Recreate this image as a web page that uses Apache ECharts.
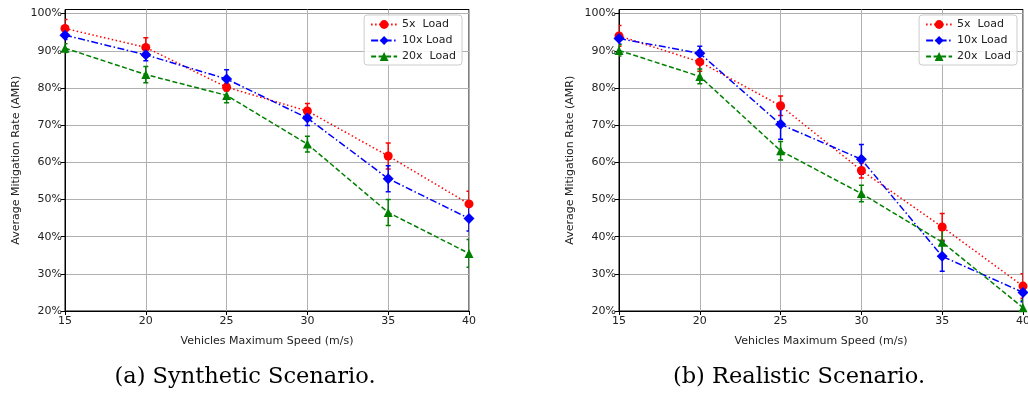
<!DOCTYPE html>
<html>
<head>
<meta charset="utf-8">
<script src="https://cdn.jsdelivr.net/npm/echarts@6/dist/echarts.min.js"></script>
<style>
html,body{margin:0;padding:0;background:#fff;}
#c{width:1028px;height:394px;}
</style>
</head>
<body>
<div id="c"></div>
<script>
// ---- data ----
const speeds = [15, 20, 25, 30, 35, 40];
const seriesNames = ['5x  Load', '10x Load', '20x  Load'];

const synth5 = [96.0, 90.9, 80.2, 73.8, 61.7, 48.8];
const synth5Err = [2.4, 2.6, 1.0, 2.0, 3.5, 3.4];
const synth10 = [94.2, 88.9, 82.4, 71.9, 55.6, 44.9];
const synth10Err = [1.2, 1.6, 2.5, 2.0, 3.5, 3.4];
const synth20 = [90.7, 83.6, 78.0, 64.9, 46.5, 35.5];
const synth20Err = [1.2, 2.2, 2.0, 2.1, 3.5, 3.7];

const real5 = [94.0, 87.0, 75.2, 57.8, 42.6, 26.7];
const real5Err = [2.8, 2.5, 2.6, 2.0, 3.6, 3.3];
const real10 = [93.3, 89.3, 70.2, 60.8, 34.7, 25.0];
const real10Err = [1.5, 1.9, 4.0, 4.0, 4.0, 2.5];
const real20 = [90.1, 83.1, 63.1, 51.6, 38.5, 20.9];
const real20Err = [1.5, 2.0, 2.5, 2.2, 3.4, 2.0];

const yTicks = [20, 30, 40, 50, 60, 70, 80, 90, 100];
const captions = ['(a) Synthetic Scenario.', '(b) Realistic Scenario.'];
const xAxisTitle = 'Vehicles Maximum Speed (m/s)';
const yAxisTitle = 'Average Mitigation Rate (AMR)';

// ---- styles ----
const styles = [
  {color: '#ff0000', symbol: 'circle', size: 9, dash: [1.5, 2.5]},
  {color: '#0000ff', symbol: 'diamond', size: 11, dash: [7, 2.5, 1.5, 2.5]},
  {color: '#008000', symbol: 'triangle', size: 9, dash: [5, 2.5]}
];

const chart = echarts.init(document.getElementById('c'), null, {renderer: 'canvas'});
const txt = '#222';
const font = 'DejaVu Sans';

function makeAxes(gi) {
  return {
    x: {
      type: 'value', gridIndex: gi, min: 15, max: 40, interval: 5,
      name: xAxisTitle, nameLocation: 'middle', nameGap: 25,
      nameTextStyle: {fontFamily: font, fontSize: 11, color: txt},
      axisLine: {show: true, onZero: false, lineStyle: {color: '#000', width: 1}},
      axisTick: {show: true, length: 4, lineStyle: {color: '#000'}},
      axisLabel: {fontFamily: font, fontSize: 11, color: txt, margin: 5},
      splitLine: {show: true, lineStyle: {color: '#b0b0b0', width: 1}}
    },
    y: {
      type: 'value', gridIndex: gi, min: 20, max: 101.1, interval: 10,
      name: yAxisTitle, nameLocation: 'middle', nameGap: 43,
      nameTextStyle: {fontFamily: font, fontSize: 11, color: txt},
      axisLine: {show: true, onZero: false, lineStyle: {color: '#000', width: 1}},
      axisTick: {show: true, length: 4, lineStyle: {color: '#000'}},
      axisLabel: {fontFamily: font, fontSize: 11, color: txt, margin: 3,
        showMaxLabel: false,
        formatter: v => (yTicks.indexOf(v) >= 0 ? v + '%' : '')},
      splitLine: {show: true, lineStyle: {color: '#b0b0b0', width: 1},
        showMaxLine: false}
    }
  };
}

const ax0 = makeAxes(0), ax1 = makeAxes(1);

function errSeries(gi, name, vals, errs, st) {
  return {
    type: 'custom', name: name + ' error', xAxisIndex: gi, yAxisIndex: gi, clip: true, z: 3,
    data: speeds.map((s, i) => [s, vals[i], errs[i]]),
    renderItem: function (params, api) {
      const x = api.value(0), y = api.value(1), e = api.value(2);
      const t = api.coord([x, y + e]);
      const b = api.coord([x, y - e]);
      const cw = 2.5;
      const ls = {stroke: st.color, lineWidth: 1.5};
      return {type: 'group', children: [
        {type: 'line', shape: {x1: t[0], y1: t[1], x2: b[0], y2: b[1]}, style: ls},
        {type: 'line', shape: {x1: t[0] - cw, y1: t[1], x2: t[0] + cw, y2: t[1]}, style: ls},
        {type: 'line', shape: {x1: b[0] - cw, y1: b[1], x2: b[0] + cw, y2: b[1]}, style: ls}
      ]};
    }
  };
}

function lineSeries(gi, name, vals, st) {
  return {
    type: 'line', name: name, xAxisIndex: gi, yAxisIndex: gi, clip: true, z: 4,
    data: speeds.map((s, i) => [s, vals[i]]),
    symbol: st.symbol, symbolSize: st.size, showSymbol: true,
    itemStyle: {color: st.color, borderWidth: 0},
    lineStyle: {color: st.color, width: 1.5, type: st.dash},
    emphasis: {disabled: true},
    animation: false
  };
}

const dataSets = [
  [[synth5, synth5Err], [synth10, synth10Err], [synth20, synth20Err]],
  [[real5, real5Err], [real10, real10Err], [real20, real20Err]]
];

const series = [];
dataSets.forEach((ds, gi) => {
  ds.forEach((d, k) => {
    series.push(lineSeries(gi, seriesNames[k], d[0], styles[k]));
    series.push(errSeries(gi, seriesNames[k], d[0], d[1], styles[k]));
  });
});

function legend(right) {
  return {
    data: seriesNames.map(n => ({name: n})),
    orient: 'vertical', right: right, top: 15,
    itemWidth: 26, itemHeight: 11, itemGap: 5,
    padding: [4, 6, 3, 6],
    backgroundColor: 'rgba(255,255,255,0.85)',
    borderColor: '#cccccc', borderWidth: 1, borderRadius: 3,
    textStyle: {fontFamily: font, fontSize: 11, color: txt},
    selectedMode: false
  };
}

chart.setOption({
  animation: false,
  backgroundColor: '#ffffff',
  grid: [
    {left: 65, right: 559, top: 9.5, bottom: 83, show: true, borderColor: '#000', borderWidth: 1, containLabel: false, outerBoundsMode: 'none'},
    {left: 619, right: 5, top: 9.5, bottom: 83, show: true, borderColor: '#000', borderWidth: 1, containLabel: false, outerBoundsMode: 'none'}
  ],
  xAxis: [ax0.x, ax1.x],
  yAxis: [ax0.y, ax1.y],
  legend: [legend(566), legend(11)],
  series: series,
  graphic: [
    {type: 'text', x: 245, y: 377, style: {text: captions[0], font: '22.5px "DejaVu Serif"', fill: '#000', align: 'center', verticalAlign: 'middle'}},
    {type: 'text', x: 799, y: 377, style: {text: captions[1], font: '22.5px "DejaVu Serif"', fill: '#000', align: 'center', verticalAlign: 'middle'}}
  ]
});
</script>
</body>
</html>
